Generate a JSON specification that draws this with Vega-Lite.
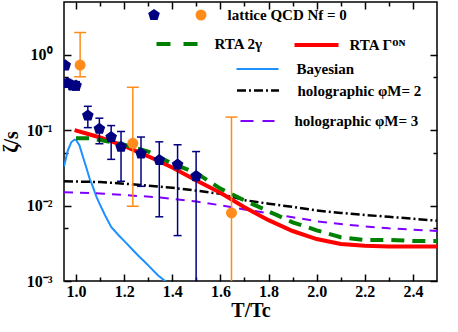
{
  "$schema": "https://vega.github.io/schema/vega-lite/v6.json",
  "width": 373,
  "height": 279,
  "autosize": {"type": "none"},
  "padding": {"left": 64, "top": 2, "right": 21, "bottom": 51},
  "background": "white",
  "config": {
    "font": "Liberation Serif",
    "view": {"stroke": "black", "strokeWidth": 1.5},
    "axis": {"labelFont": "Liberation Serif", "labelFontWeight": "bold", "labelFontSize": 16, "labelColor": "black", "tickColor": "black", "tickWidth": 1.5, "domain": false, "grid": false, "titleFont": "Liberation Serif", "titleFontWeight": "bold", "titleColor": "black", "labelFlush": false},
    "legend": {"orient": "none", "padding": 0, "symbolOffset": 0, "labelFont": "Liberation Serif", "labelFontWeight": "bold", "labelFontSize": 15, "labelColor": "black", "title": null, "symbolOpacity": 1}
  },
  "datasets": {
    "curves": [
      {"s": "RTA Gamma", "x": 0.994, "y": 0.100}, {"s": "RTA Gamma", "x": 1.05, "y": 0.089}, {"s": "RTA Gamma", "x": 1.1, "y": 0.080}, {"s": "RTA Gamma", "x": 1.2, "y": 0.062}, {"s": "RTA Gamma", "x": 1.3, "y": 0.045}, {"s": "RTA Gamma", "x": 1.4, "y": 0.032}, {"s": "RTA Gamma", "x": 1.5, "y": 0.0215}, {"s": "RTA Gamma", "x": 1.6, "y": 0.0148}, {"s": "RTA Gamma", "x": 1.7, "y": 0.0095}, {"s": "RTA Gamma", "x": 1.8, "y": 0.0064}, {"s": "RTA Gamma", "x": 1.9, "y": 0.0046}, {"s": "RTA Gamma", "x": 2.0, "y": 0.0036}, {"s": "RTA Gamma", "x": 2.1, "y": 0.0031}, {"s": "RTA Gamma", "x": 2.2, "y": 0.00293}, {"s": "RTA Gamma", "x": 2.3, "y": 0.00287}, {"s": "RTA Gamma", "x": 2.4, "y": 0.00286}, {"s": "RTA Gamma", "x": 2.5, "y": 0.00286},
      {"s": "RTA 2g", "x": 1.0, "y": 0.078}, {"s": "RTA 2g", "x": 1.06, "y": 0.078}, {"s": "RTA 2g", "x": 1.1, "y": 0.074}, {"s": "RTA 2g", "x": 1.2, "y": 0.064}, {"s": "RTA 2g", "x": 1.3, "y": 0.052}, {"s": "RTA 2g", "x": 1.4, "y": 0.036}, {"s": "RTA 2g", "x": 1.5, "y": 0.027}, {"s": "RTA 2g", "x": 1.6, "y": 0.0168}, {"s": "RTA 2g", "x": 1.7, "y": 0.0117}, {"s": "RTA 2g", "x": 1.8, "y": 0.0084}, {"s": "RTA 2g", "x": 1.9, "y": 0.0060}, {"s": "RTA 2g", "x": 2.0, "y": 0.0047}, {"s": "RTA 2g", "x": 2.1, "y": 0.0038}, {"s": "RTA 2g", "x": 2.2, "y": 0.0035}, {"s": "RTA 2g", "x": 2.3, "y": 0.0035}, {"s": "RTA 2g", "x": 2.4, "y": 0.0034}, {"s": "RTA 2g", "x": 2.5, "y": 0.0034},
      {"s": "Bayesian", "x": 0.95, "y": 0.033}, {"s": "Bayesian", "x": 0.966, "y": 0.054}, {"s": "Bayesian", "x": 0.98, "y": 0.069}, {"s": "Bayesian", "x": 0.994, "y": 0.075}, {"s": "Bayesian", "x": 1.0, "y": 0.074}, {"s": "Bayesian", "x": 1.014, "y": 0.063}, {"s": "Bayesian", "x": 1.028, "y": 0.045}, {"s": "Bayesian", "x": 1.042, "y": 0.0325}, {"s": "Bayesian", "x": 1.056, "y": 0.023}, {"s": "Bayesian", "x": 1.07, "y": 0.0177}, {"s": "Bayesian", "x": 1.085, "y": 0.013}, {"s": "Bayesian", "x": 1.097, "y": 0.0107}, {"s": "Bayesian", "x": 1.12, "y": 0.0075}, {"s": "Bayesian", "x": 1.146, "y": 0.0052}, {"s": "Bayesian", "x": 1.175, "y": 0.0041}, {"s": "Bayesian", "x": 1.208, "y": 0.0032}, {"s": "Bayesian", "x": 1.235, "y": 0.0026}, {"s": "Bayesian", "x": 1.263, "y": 0.0021}, {"s": "Bayesian", "x": 1.285, "y": 0.0018}, {"s": "Bayesian", "x": 1.305, "y": 0.00155}, {"s": "Bayesian", "x": 1.339, "y": 0.0012}, {"s": "Bayesian", "x": 1.37, "y": 0.001}, {"s": "Bayesian", "x": 1.38, "y": 0.00095},
      {"s": "holo2", "x": 0.95, "y": 0.021}, {"s": "holo2", "x": 1.1, "y": 0.0205}, {"s": "holo2", "x": 1.2, "y": 0.0195}, {"s": "holo2", "x": 1.3, "y": 0.0184}, {"s": "holo2", "x": 1.4, "y": 0.0172}, {"s": "holo2", "x": 1.5, "y": 0.0158}, {"s": "holo2", "x": 1.6, "y": 0.0143}, {"s": "holo2", "x": 1.7, "y": 0.0118}, {"s": "holo2", "x": 1.8, "y": 0.0106}, {"s": "holo2", "x": 1.9, "y": 0.0096}, {"s": "holo2", "x": 2.0, "y": 0.0086}, {"s": "holo2", "x": 2.1, "y": 0.0080}, {"s": "holo2", "x": 2.2, "y": 0.0075}, {"s": "holo2", "x": 2.3, "y": 0.0071}, {"s": "holo2", "x": 2.4, "y": 0.0067}, {"s": "holo2", "x": 2.5, "y": 0.0063},
      {"s": "holo3", "x": 0.95, "y": 0.015}, {"s": "holo3", "x": 1.1, "y": 0.0145}, {"s": "holo3", "x": 1.2, "y": 0.0138}, {"s": "holo3", "x": 1.35, "y": 0.0128}, {"s": "holo3", "x": 1.5, "y": 0.0113}, {"s": "holo3", "x": 1.6, "y": 0.0101}, {"s": "holo3", "x": 1.7, "y": 0.0089}, {"s": "holo3", "x": 1.8, "y": 0.0079}, {"s": "holo3", "x": 1.9, "y": 0.0070}, {"s": "holo3", "x": 2.0, "y": 0.0062}, {"s": "holo3", "x": 2.1, "y": 0.0057}, {"s": "holo3", "x": 2.2, "y": 0.0053}, {"s": "holo3", "x": 2.3, "y": 0.0050}, {"s": "holo3", "x": 2.4, "y": 0.0048}, {"s": "holo3", "x": 2.5, "y": 0.0046}
    ],
    "lattice": [
      {"src": "wuppertal", "x": 0.955, "y": 0.72, "lo": 0.66, "hi": 0.78},
      {"src": "wuppertal", "x": 0.965, "y": 0.42, "lo": 0.37, "hi": 0.47},
      {"src": "wuppertal", "x": 0.985, "y": 0.39, "lo": 0.35, "hi": 0.44},
      {"src": "wuppertal", "x": 1.0, "y": 0.39, "lo": 0.34, "hi": 0.44},
      {"src": "wuppertal", "x": 1.049, "y": 0.156, "lo": 0.108, "hi": 0.207},
      {"src": "wuppertal", "x": 1.097, "y": 0.104, "lo": 0.066, "hi": 0.144},
      {"src": "wuppertal", "x": 1.146, "y": 0.081, "lo": 0.041, "hi": 0.115},
      {"src": "wuppertal", "x": 1.187, "y": 0.060, "lo": 0.021, "hi": 0.096},
      {"src": "wuppertal", "x": 1.27, "y": 0.049, "lo": 0.018, "hi": 0.081},
      {"src": "wuppertal", "x": 1.346, "y": 0.040, "lo": 0.0071, "hi": 0.070},
      {"src": "wuppertal", "x": 1.422, "y": 0.035, "lo": 0.0040, "hi": 0.064},
      {"src": "wuppertal", "x": 1.499, "y": 0.0245, "lo": 0.0008, "hi": 0.052},
      {"src": "meyer", "x": 1.017, "y": 0.73, "lo": 0.51, "hi": 1.97},
      {"src": "meyer", "x": 1.236, "y": 0.067, "lo": 0.0098, "hi": 0.37},
      {"src": "meyer", "x": 1.646, "y": 0.008, "lo": 0.0008, "hi": 0.149}
    ]
  },
  "resolve": {"scale": {"color": "independent"}, "axis": {"x": "independent", "y": "independent"}},
  "layer": [
    {
      "data": {"name": "curves"},
      "transform": [{"filter": "datum.s === 'Bayesian'"}],
      "mark": {"type": "line", "strokeWidth": 2, "clip": true},
      "encoding": {
        "x": {"field": "x", "type": "quantitative", "scale": {"domain": [0.95, 2.5], "nice": false, "zero": false},
              "axis": {"orient": "bottom", "values": [1.0, 1.2, 1.4, 1.6, 1.8, 2.0, 2.2, 2.4], "format": ".1f", "tickSize": -7, "labelPadding": 9, "labelFont": "Liberation Serif", "labelFontWeight": 700, "labelFontSize": 16, "title": "T/Tc", "titleFontSize": 20, "titlePadding": 1}},
        "y": {"field": "y", "type": "quantitative", "scale": {"type": "log", "domain": [0.001, 5], "nice": false},
              "axis": {"orient": "left", "values": [0.001, 0.01, 0.1, 1], "labelExpr": "datum.value >= 0.5 ? '10⁰' : datum.value >= 0.05 ? '10⁻¹' : datum.value >= 0.005 ? '10⁻²' : '10⁻³'", "tickSize": -7, "labelPadding": 19, "labelFont": "Liberation Serif", "labelFontWeight": 700, "labelFontSize": 16, "title": "ζ/s", "titleFontSize": 20, "titlePadding": 5}},
        "color": {"datum": "Bayesian", "scale": {"range": ["#1E90FF"]},
                  "legend": {"legendX": 171.5, "legendY": 45, "symbolType": "stroke", "symbolSize": 1764, "symbolStrokeWidth": 2, "labelOffset": 17}}
      }
    },
    {
      "data": {"name": "curves"},
      "transform": [{"filter": "datum.s === 'holo3'"}],
      "mark": {"type": "line", "strokeWidth": 2, "strokeDash": [9, 7], "clip": true},
      "encoding": {
        "x": {"field": "x", "type": "quantitative", "scale": {"domain": [0.95, 2.5], "nice": false, "zero": false},
              "axis": {"orient": "bottom", "values": [1.1, 1.3, 1.5, 1.7, 1.9, 2.1, 2.3], "tickSize": -4, "labels": false, "title": null}},
        "y": {"field": "y", "type": "quantitative", "scale": {"type": "log", "domain": [0.001, 5], "nice": false},
              "axis": {"orient": "left", "values": [0.005, 0.05, 0.5], "tickSize": -4, "labels": false, "title": null}},
        "color": {"datum": "holographic φM= 3", "scale": {"range": ["#8000FF"]},
                  "legend": {"legendX": 175.5, "legendY": 101, "symbolType": "stroke", "symbolSize": 1156, "symbolStrokeWidth": 2, "symbolDash": [13, 9], "labelOffset": 19}}
      }
    },
    {
      "data": {"name": "curves"},
      "transform": [{"filter": "datum.s === 'holo2'"}],
      "mark": {"type": "line", "strokeWidth": 2.5, "strokeDash": [9, 3, 2, 3], "clip": true},
      "encoding": {
        "x": {"field": "x", "type": "quantitative", "scale": {"domain": [0.95, 2.5], "nice": false, "zero": false},
              "axis": {"orient": "top", "values": [1.0, 1.2, 1.4, 1.6, 1.8, 2.0, 2.2, 2.4], "tickSize": -7, "labels": false, "title": null}},
        "y": {"field": "y", "type": "quantitative", "scale": {"type": "log", "domain": [0.001, 5], "nice": false},
              "axis": {"orient": "right", "values": [0.001, 0.01, 0.1, 1], "tickSize": -7, "labels": false, "title": null}},
        "color": {"datum": "holographic φM= 2", "scale": {"range": ["#000000"]},
                  "legend": {"legendX": 171.5, "legendY": 66, "symbolType": "stroke", "symbolSize": 1764, "symbolStrokeWidth": 2.5, "symbolDash": [9, 3, 2, 3], "labelOffset": 17}}
      }
    },
    {
      "data": {"name": "curves"},
      "transform": [{"filter": "datum.s === 'RTA Gamma'"}],
      "mark": {"type": "line", "strokeWidth": 4, "clip": true},
      "encoding": {
        "x": {"field": "x", "type": "quantitative", "scale": {"domain": [0.95, 2.5], "nice": false, "zero": false},
              "axis": {"orient": "top", "values": [1.1, 1.3, 1.5, 1.7, 1.9, 2.1, 2.3], "tickSize": -4, "labels": false, "title": null}},
        "y": {"field": "y", "type": "quantitative", "scale": {"type": "log", "domain": [0.001, 5], "nice": false},
              "axis": {"orient": "right", "values": [0.005, 0.05, 0.5], "tickSize": -4, "labels": false, "title": null}},
        "color": {"datum": "RTA Γᴼᴺ", "scale": {"range": ["#FF0000"]},
                  "legend": {"legendX": 228.5, "legendY": 19, "symbolType": "stroke", "symbolSize": 1936, "symbolStrokeWidth": 4, "labelOffset": 9}}
      }
    },
    {
      "data": {"name": "curves"},
      "transform": [{"filter": "datum.s === 'RTA 2g'"}],
      "mark": {"type": "line", "strokeWidth": 4, "strokeDash": [13, 8], "clip": true},
      "encoding": {
        "x": {"field": "x", "type": "quantitative", "scale": {"domain": [0.95, 2.5], "nice": false, "zero": false}, "axis": null},
        "y": {"field": "y", "type": "quantitative", "scale": {"type": "log", "domain": [0.001, 5], "nice": false}, "axis": null},
        "color": {"datum": "RTA 2γ", "scale": {"range": ["#008000"]},
                  "legend": {"legendX": 90.5, "legendY": 19, "symbolType": "stroke", "symbolSize": 1764, "symbolStrokeWidth": 4, "symbolDash": [14, 13], "labelOffset": 14}}
      }
    },
    {
      "data": {"name": "lattice"},
      "transform": [{"filter": "datum.src === 'wuppertal'"}],
      "mark": {"type": "rule", "color": "#000080", "strokeWidth": 1.5, "clip": true},
      "encoding": {
        "x": {"field": "x", "type": "quantitative", "axis": null},
        "y": {"field": "lo", "type": "quantitative", "axis": null},
        "y2": {"field": "hi"}
      }
    },
    {
      "data": {"name": "lattice"},
      "transform": [{"filter": "datum.src === 'wuppertal'"}],
      "mark": {"type": "tick", "orient": "horizontal", "color": "#000080", "size": 8, "thickness": 1.5, "opacity": 1, "clip": true},
      "encoding": {
        "x": {"field": "x", "type": "quantitative", "axis": null},
        "y": {"field": "lo", "type": "quantitative", "axis": null}
      }
    },
    {
      "data": {"name": "lattice"},
      "transform": [{"filter": "datum.src === 'wuppertal'"}],
      "mark": {"type": "tick", "orient": "horizontal", "color": "#000080", "size": 8, "thickness": 1.5, "opacity": 1, "clip": true},
      "encoding": {
        "x": {"field": "x", "type": "quantitative", "axis": null},
        "y": {"field": "hi", "type": "quantitative", "axis": null}
      }
    },
    {
      "data": {"name": "lattice"},
      "transform": [{"filter": "datum.src === 'meyer'"}],
      "mark": {"type": "rule", "color": "#FF8C1A", "strokeWidth": 1.5, "clip": true},
      "encoding": {
        "x": {"field": "x", "type": "quantitative", "axis": null},
        "y": {"field": "lo", "type": "quantitative", "axis": null},
        "y2": {"field": "hi"}
      }
    },
    {
      "data": {"name": "lattice"},
      "transform": [{"filter": "datum.src === 'meyer'"}],
      "mark": {"type": "tick", "orient": "horizontal", "color": "#FF8C1A", "size": 12, "thickness": 1.5, "opacity": 1, "clip": true},
      "encoding": {
        "x": {"field": "x", "type": "quantitative", "axis": null},
        "y": {"field": "lo", "type": "quantitative", "axis": null}
      }
    },
    {
      "data": {"name": "lattice"},
      "transform": [{"filter": "datum.src === 'meyer'"}],
      "mark": {"type": "tick", "orient": "horizontal", "color": "#FF8C1A", "size": 12, "thickness": 1.5, "opacity": 1, "clip": true},
      "encoding": {
        "x": {"field": "x", "type": "quantitative", "axis": null},
        "y": {"field": "hi", "type": "quantitative", "axis": null}
      }
    },
    {
      "data": {"name": "lattice"},
      "transform": [{"filter": "datum.src === 'wuppertal'"}],
      "mark": {"type": "point", "filled": true, "size": 150, "opacity": 1, "shape": "M0,-1L0.951,-0.309L0.588,0.809L-0.588,0.809L-0.951,-0.309Z", "clip": true},
      "encoding": {
        "x": {"field": "x", "type": "quantitative", "axis": null},
        "y": {"field": "y", "type": "quantitative", "axis": null},
        "color": {"datum": "pentagon", "scale": {"range": ["#000080"]},
                  "legend": {"legendX": 82.5, "legendY": 5.5, "symbolType": "M0,-1L0.951,-0.309L0.588,0.809L-0.588,0.809L-0.951,-0.309Z", "symbolSize": 150, "labelExpr": "''", "labelOffset": 0}}
      }
    },
    {
      "data": {"name": "lattice"},
      "transform": [{"filter": "datum.src === 'meyer'"}],
      "mark": {"type": "point", "filled": true, "size": 121, "opacity": 1, "shape": "circle", "clip": true},
      "encoding": {
        "x": {"field": "x", "type": "quantitative", "axis": null},
        "y": {"field": "y", "type": "quantitative", "axis": null},
        "color": {"datum": "lattice QCD Nf = 0", "scale": {"range": ["#FF8C1A"]},
                  "legend": {"legendX": 129.5, "legendY": 5.5, "symbolType": "circle", "symbolSize": 121, "labelOffset": 19}}
      }
    }
  ]
}
